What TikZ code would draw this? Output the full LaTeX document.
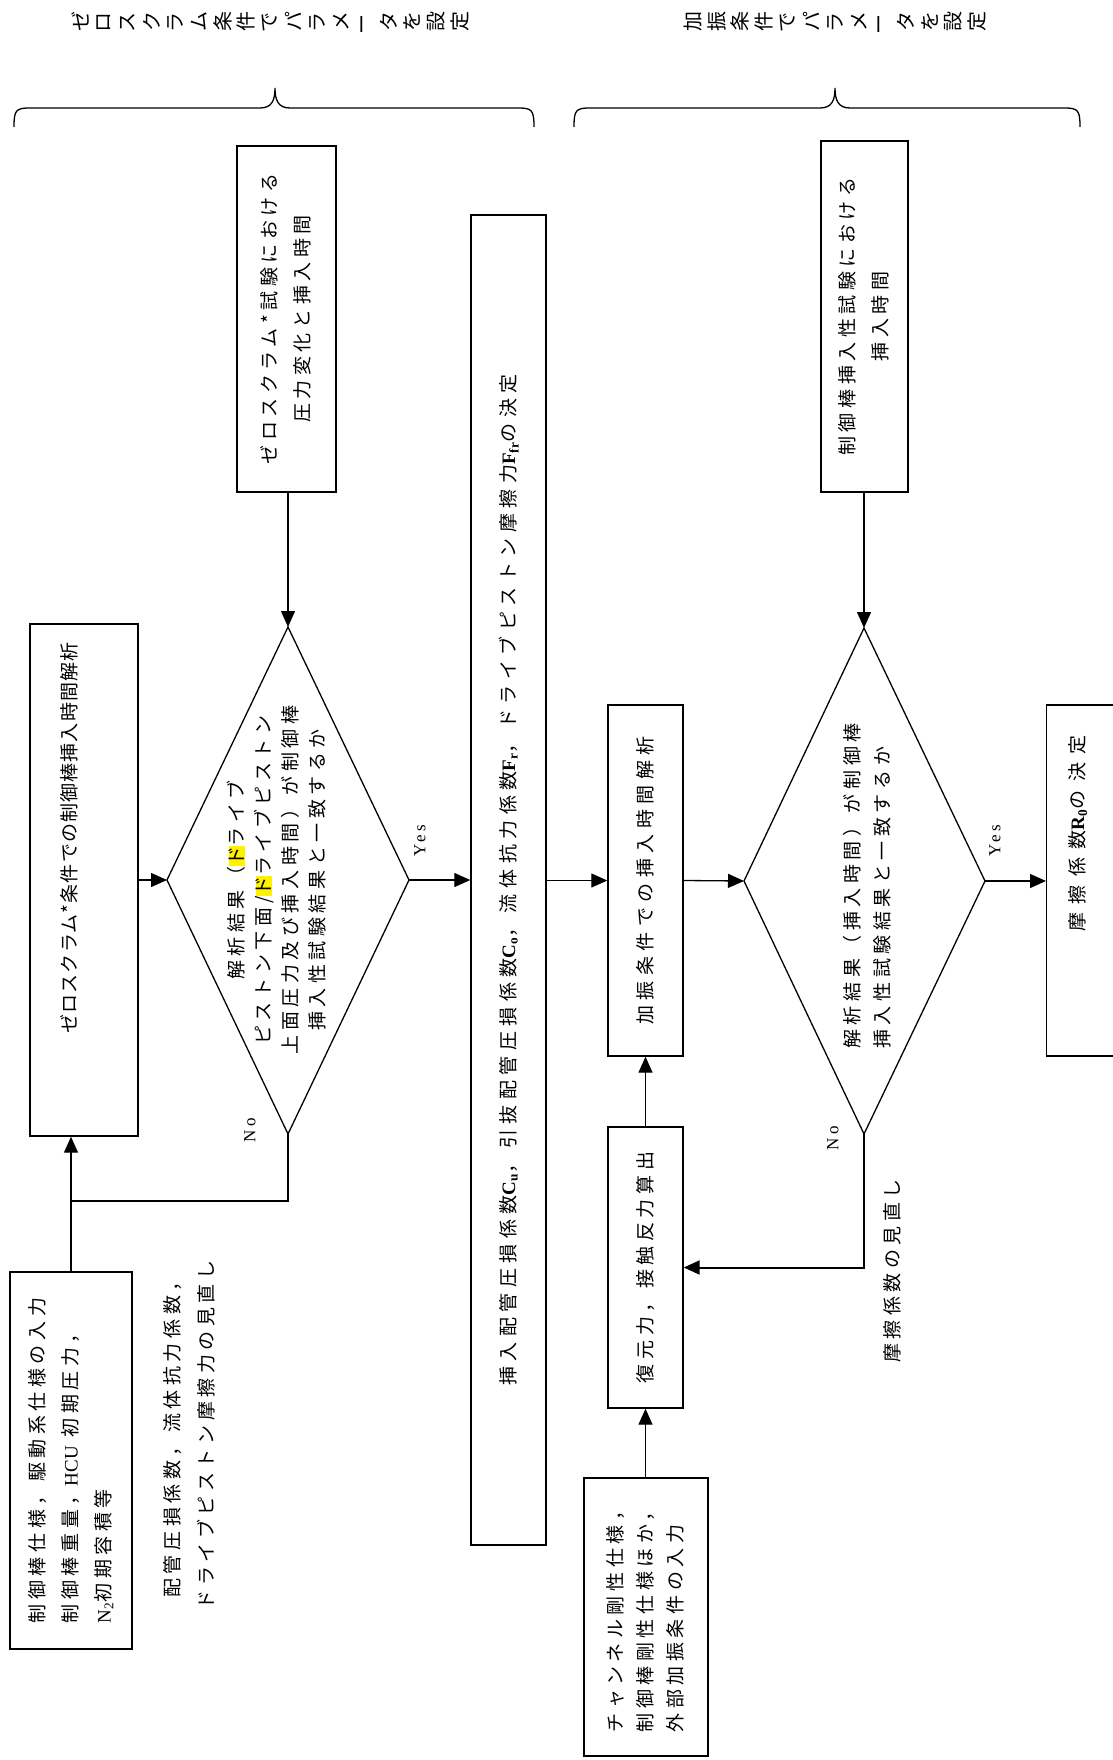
\documentclass[tikz,border=0pt]{standalone}
\usepackage{fontspec}
\usepackage{graphicx}
\usetikzlibrary{arrows.meta}
\setmainfont{Noto Sans CJK JP}[LetterSpace=24]
\newfontfamily\jpplain{Noto Sans CJK JP}
\newfontfamily\jptight{Noto Sans CJK JP}[LetterSpace=6]
\newfontfamily\jpwide{Noto Sans CJK JP}[LetterSpace=29]
\newfontfamily\jpwider{Noto Sans CJK JP}[LetterSpace=45]
\newfontfamily\latf{Liberation Serif}
\newfontfamily\latsp{Liberation Serif}[LetterSpace=20]
\newcommand\bsub[2]{{\latf\bfseries #1\textsubscript{#2}}}
\newcommand\hlt[1]{{\setlength{\fboxsep}{0.5pt}\colorbox{yellow}{#1}}}
\newcommand\rch[1]{\makebox[23.7pt]{\rotatebox[origin=c]{90}{#1}}}
\def\vtextloop#1{\ifx\relax#1\else\rch{#1}\expandafter\vtextloop\fi}
\newcommand\vtext[1]{\vtextloop#1\relax}
\newcommand\jsz{\fontsize{19}{33}\selectfont}
\newcommand\vlines[2]{\rotatebox{90}{\begin{tabular}{@{}#1@{}}#2\end{tabular}}}
\tikzset{
  box/.style={draw, line width=1.4pt, inner sep=0pt, font=\jsz},
  wire/.style={line width=1.3pt},
  arr/.style={wire, -{Triangle[length=16pt,width=14pt]}},
  noline/.style={line width=2pt},
  noarr/.style={noline, -{Triangle[length=16pt,width=14pt]}},
  yn/.style={font=\latsp\fontsize{17}{17}\selectfont, rotate=90, inner sep=0pt},
  lbl/.style={font=\jsz, inner sep=0pt},
  title/.style={font=\jpplain\fontsize{20}{20}\selectfont, inner sep=0pt},
  brace/.style={line width=1.3pt}
}
\begin{document}
\begin{tikzpicture}[x=1pt,y=-1pt]
\useasboundingbox (0,0) rectangle (1112,1760);

% titles
\node[title] (t1) at (270,23) {\vtext{ゼロスクラム条件でパラメータを設定}};
\node[title] (t2) at (835,23) {\vtext{加振条件でパラメータを設定}};

% braces
\draw[brace] (14,127) .. controls (14,110) and (16,108) .. (30,108) -- (260,108)
  .. controls (272,108) and (275,100) .. (275,88)
  .. controls (275,100) and (278,108) .. (290,108) -- (518,108)
  .. controls (532,108) and (534,110) .. (534,127);
\draw[brace] (574,127) .. controls (574,110) and (576,108) .. (590,108) -- (820,108)
  .. controls (832,108) and (835,100) .. (835,88)
  .. controls (835,100) and (838,108) .. (850,108) -- (1064,108)
  .. controls (1078,108) and (1080,110) .. (1080,127);

% boxes
\node[box, minimum width=122pt, minimum height=377pt] (A) at (71,1460.5)
  {\vlines{l}{制御棒仕様，駆動系仕様の入力\\制御棒重量，{\latf HCU} 初期圧力，\\{\latf N\textsubscript{2}}初期容積等}};
\node[box, minimum width=108pt, minimum height=512pt] (B) at (84,880)
  {\rotatebox{90}{\hspace*{84pt}\jptight ゼロスクラム*条件での制御棒挿入時間解析}\hspace*{30pt}};
\node[box, minimum width=99pt, minimum height=346pt] (C) at (286.5,319)
  {\vlines{c}{ゼロスクラム*試験における\\圧力変化と挿入時間}};
\node[box, minimum width=75pt, minimum height=1330pt] (D) at (508.5,880)
  {\jpwide\vlines{c}{挿入配管圧損係数\bsub{C}{u}，引抜配管圧損係数\bsub{C}{o}，流体抗力係数\bsub{F}{r}，ドライブピストン摩擦力\bsub{F}{fr}の決定}};
\node[box, minimum width=75pt, minimum height=351pt] (E) at (645.5,880.5)
  {\jpwide\vlines{c}{加振条件での挿入時間解析}};
\node[box, minimum width=75pt, minimum height=281pt] (F) at (645.5,1267.5)
  {\vlines{c}{復元力，接触反力算出}};
\node[box, minimum width=87pt, minimum height=351pt] (G) at (864.5,316.5)
  {\vlines{c}{制御棒挿入性試験における\\挿入時間}};
\node[box, minimum width=124pt, minimum height=278pt] (H) at (646,1617)
  {\fontsize{19}{30}\selectfont\vlines{l}{チャンネル剛性仕様，\\制御棒剛性仕様ほか，\\外部加振条件の入力}};
\node[box, anchor=west, minimum width=120pt, minimum height=351pt] (r0) at (1046,880.5)
  {\rotatebox{90}{\hspace*{94pt}\jpwider 摩擦係数\bsub{R}{0}の決定}\hspace*{58pt}};

% diamonds
\coordinate (d1t) at (288,627);
\coordinate (d1l) at (167,880);
\coordinate (d1r) at (409,880);
\coordinate (d1b) at (288,1134);
\draw[wire] (d1t) -- (d1r) -- (d1b) -- (d1l) -- cycle;
\node[lbl, font=\fontsize{19}{27}\selectfont] (d1) at (279,880)
  {\vlines{c}{解析結果（\hlt{ド}ライブ\\ピストン下面/\hlt{ド}ライブピストン\\上面圧力及び挿入時間）が制御棒\\挿入性試験結果と一致するか}};

\coordinate (d2t) at (864,628);
\coordinate (d2l) at (744,881);
\coordinate (d2r) at (985,881);
\coordinate (d2b) at (864,1134);
\draw[wire] (d2t) -- (d2r) -- (d2b) -- (d2l) -- cycle;
\node[lbl, font=\fontsize{19}{30}\selectfont] (d2) at (868,886)
  {\vlines{l}{解析結果（挿入時間）が制御棒\\挿入性試験結果と一致するか}};

% free labels
\node[lbl, font=\fontsize{19}{34}\selectfont] (rev1) at (190,1435)
  {\vlines{c}{配管圧損係数，流体抗力係数，\\ドライブピストン摩擦力の見直し}};
\node[lbl] (rev2) at (893,1271) {\vlines{c}{摩擦係数の見直し}};
\node[yn] (yes1) at (420,841) {Yes};
\node[yn] (no1) at (250,1130) {No};
\node[yn] (yes2) at (995,841) {Yes};
\node[yn] (no2) at (833,1138) {No};

% connectors
\coordinate (j1) at (71,1201);
\draw[arr] (A.north) -- (A.north |- B.south);
\draw[noline] (d1b) |- (j1);
\draw[arr] (B.east |- d1l) -- (d1l);
\draw[arr] (d1t |- C.south) -- (d1t);
\draw[arr] (d1r) -- (D.west |- d1r);
\draw[arr] (D.east |- E.west) -- (E.west);
\draw[arr] (E.east) -- (d2l);
\draw[arr] (d2t |- G.south) -- (d2t);
\draw[arr] (d2r) -- (r0.west |- d2r);
\draw[arr] (F.south |- H.north) -- (F.south);
\draw[arr] (F.north) -- (E.south);
\draw[noarr] (d2b) |- (F.east);
\end{tikzpicture}
\end{document}
